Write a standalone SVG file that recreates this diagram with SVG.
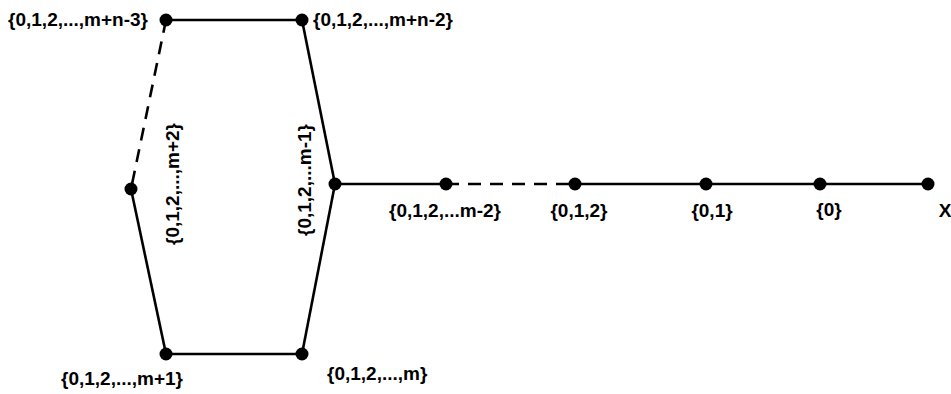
<svg xmlns="http://www.w3.org/2000/svg" width="951" height="394" viewBox="0 0 951 394">
<style>
.e{stroke:#000;stroke-width:2.6;fill:none}
.d{stroke-dasharray:13,9}
.n{fill:#000}
text{font-family:"Liberation Sans",Arial,sans-serif;font-weight:bold;font-size:19px;fill:#000}
.v{dominant-baseline:central;text-anchor:middle}
</style>
<rect width="951" height="394" fill="#fff"/>
<g id="connectors">
<line class="e" x1="166" y1="20" x2="302" y2="20"/>
<line class="e d" x1="166" y1="20" x2="131" y2="189"/>
<line class="e" x1="302" y1="20" x2="335" y2="184"/>
<line class="e" x1="131" y1="189" x2="166" y2="354"/>
<line class="e" x1="335" y1="184" x2="302" y2="354"/>
<line class="e" x1="166" y1="354" x2="302" y2="354"/>
<line class="e" x1="335" y1="184" x2="446" y2="184"/>
<line class="e d" x1="446" y1="184" x2="575" y2="184"/>
<line class="e" x1="575" y1="184" x2="928" y2="184"/>
</g>
<g id="n1"><circle class="n" cx="166" cy="20" r="6.5"/><text x="148" y="26" text-anchor="end">{0,1,2,...,m+n-3}</text></g>
<g id="n2"><circle class="n" cx="302" cy="20" r="6.5"/><text x="313" y="26">{0,1,2,...,m+n-2}</text></g>
<g id="n3"><circle class="n" cx="131" cy="189" r="6.5"/><text class="v" transform="translate(172,184) rotate(-90)">{0,1,2,...,m+2}</text></g>
<g id="n4"><circle class="n" cx="335" cy="184" r="6.5"/><text class="v" transform="translate(304,180) rotate(-90)">{0,1,2,...m-1}</text></g>
<g id="n5"><circle class="n" cx="166" cy="354" r="6.5"/><text x="122" y="385" text-anchor="middle">{0,1,2,...,m+1}</text></g>
<g id="n6"><circle class="n" cx="302" cy="354" r="6.5"/><text x="327" y="380">{0,1,2,...,m}</text></g>
<g id="n7"><circle class="n" cx="446" cy="184" r="6.5"/><text x="445" y="217" text-anchor="middle">{0,1,2,...m-2}</text></g>
<g id="n8"><circle class="n" cx="575" cy="184" r="6.5"/><text x="579" y="217" text-anchor="middle">{0,1,2}</text></g>
<g id="n9"><circle class="n" cx="706" cy="184" r="6.5"/><text x="712" y="217" text-anchor="middle">{0,1}</text></g>
<g id="n10"><circle class="n" cx="820" cy="184" r="6.5"/><text x="829" y="216" text-anchor="middle">{0}</text></g>
<g id="n11"><circle class="n" cx="928" cy="184" r="6.5"/><text x="945" y="217" text-anchor="middle">X</text></g>
</svg>
